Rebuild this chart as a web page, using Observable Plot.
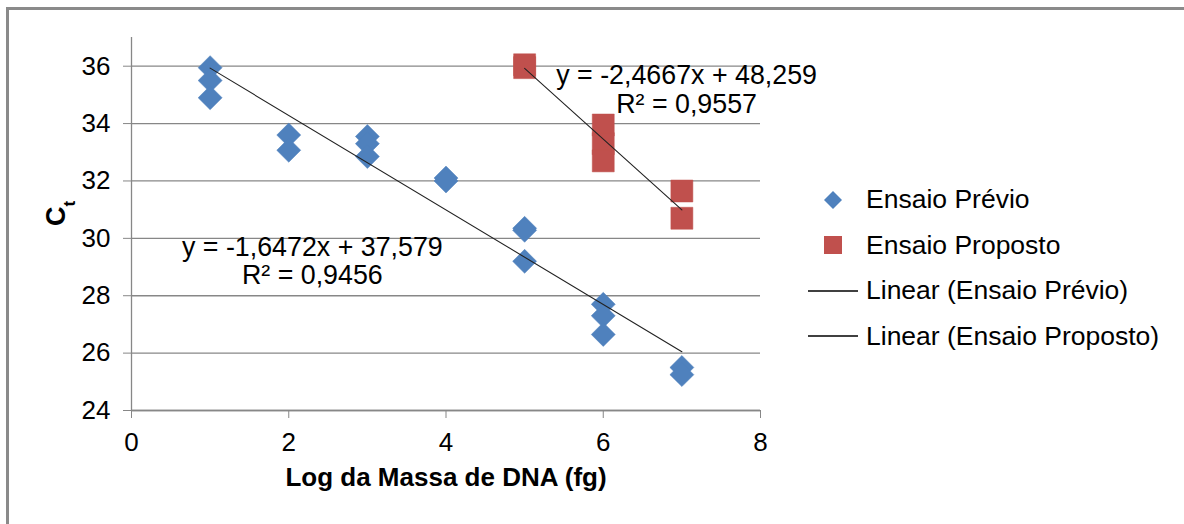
<!DOCTYPE html>
<html>
<head>
<meta charset="utf-8">
<script src="https://cdn.jsdelivr.net/npm/d3@7"></script>
<script src="https://cdn.jsdelivr.net/npm/@observablehq/plot@0.6"></script>
<style>
  html, body { margin: 0; padding: 0; background: #fff; }
  #wrap { width: 1184px; height: 524px; position: relative; overflow: hidden; font-family: "Liberation Sans", Arial, sans-serif; }
  #frame { position: absolute; left: 6px; top: 7px; width: 1300px; height: 700px; border-top: 3px solid #8a8a8a; border-left: 3px solid #8a8a8a; }
  #chart { position: absolute; left: 0; top: 0; }
  #legend { position: absolute; left: 806px; top: 177px; font-size: 26.5px; color: #000; }
  #legend .row { height: 45.5px; display: flex; align-items: center; white-space: nowrap; }
  #legend svg { width: 54px; height: 30px; margin-right: 6px; flex: none; }
</style>
</head>
<body>
<div id="wrap">
<div id="frame"></div>
<div id="chart"></div>
<div id="legend"></div>
</div>
<script>
// ---- data ----
const xTicks = [0, 2, 4, 6, 8];
const yTicks = [24, 26, 28, 30, 32, 34, 36];

const previoX = [1, 1, 1, 2, 2, 3, 3, 3, 4, 4, 5, 5, 5, 6, 6, 6, 7, 7];
const previoY = [35.95, 35.5, 34.9, 33.6, 33.07, 33.55, 33.3, 32.85, 32.1, 32.0, 30.35, 30.28, 29.2, 27.7, 27.3, 26.65, 25.5, 25.25];

const propostoX = [5, 5, 6, 6, 6, 7, 7];
const propostoY = [36.05, 35.95, 33.95, 33.3, 32.7, 31.65, 30.7];

const seriesNames = ["Ensaio Prévio", "Ensaio Proposto"];
const seriesColors = ["#4f81bd", "#c0504d"];
const trendSlope = [-1.6472, -2.4667];
const trendIntercept = [37.579, 48.259];
const trendXMin = [1, 5];
const trendXMax = [7, 7];

const eqLabels = ["y = -1,6472x + 37,579\nR² = 0,9456", "y = -2,4667x + 48,259\nR² = 0,9557"];
const eqLabelX = [2.3, 7.06];
const eqLabelY = [29.22, 35.2];

const legendLabels = ["Ensaio Prévio", "Ensaio Proposto", "Linear (Ensaio Prévio)", "Linear (Ensaio Proposto)"];

const xTitle = "Log da Massa de DNA (fg)";
const yTitle = "C";
const yTitleSub = "t";

// ---- tables ----
const previo = previoX.map((x, i) => ({x, y: previoY[i]}));
const proposto = propostoX.map((x, i) => ({x, y: propostoY[i]}));
const trends = [];
seriesNames.forEach((s, i) => {
  [trendXMin[i], trendXMax[i]].forEach(x => trends.push({series: s, x, y: trendSlope[i] * x + trendIntercept[i]}));
});
const eqs = eqLabels.map((t, i) => ({text: t, x: eqLabelX[i], y: eqLabelY[i]}));

const grey = "#878787";
const font = "'Liberation Sans', Arial, sans-serif";

const plot = Plot.plot({
  width: 1184,
  height: 524,
  marginLeft: 131,
  marginRight: 424,
  marginTop: 37,
  marginBottom: 114,
  style: {fontFamily: font, fontSize: "26px", background: "transparent", color: "#000"},
  x: {domain: [0, 8]},
  y: {domain: [24, 37]},
  marks: [
    Plot.gridY(yTicks, {stroke: grey, strokeOpacity: 1, strokeWidth: 1.3}),
    Plot.ruleX([0], {stroke: grey, strokeWidth: 1.3}),
    Plot.ruleY([24], {stroke: grey, strokeWidth: 1.3}),
    Plot.axisY(yTicks, {tickSize: 8, tickPadding: 13, stroke: grey, fill: "#000", fontSize: 26, label: null, tickFormat: d => String(d)}),
    Plot.axisX(xTicks, {tickSize: 8, tickPadding: 14, stroke: grey, fill: "#000", fontSize: 26, label: null, tickFormat: d => String(d)}),
    Plot.dot(previo, {x: "x", y: "y", symbol: "diamond2", r: 10.8, fill: seriesColors[0], stroke: seriesColors[0], strokeWidth: 0.5}),
    Plot.dot(proposto, {x: "x", y: "y", symbol: "square", r: 12.4, fill: seriesColors[1], stroke: seriesColors[1], strokeWidth: 0.5}),
    Plot.line(trends, {x: "x", y: "y", z: "series", stroke: "#222", strokeWidth: 1.1}),
    Plot.text(eqs, {x: "x", y: "y", text: "text", fontSize: 26.8, lineHeight: 1.08, fill: "#000", textAnchor: "middle"}),
    Plot.text([xTitle], {frameAnchor: "bottom", dy: 75, fontSize: 26, fontWeight: "bold", fill: "#000"}),
    Plot.text([yTitle], {frameAnchor: "left", dx: -75, dy: 2, rotate: -90, fontSize: 27, fontWeight: "bold", fill: "#000", className: "ytitle"})
  ]
});
document.getElementById("chart").appendChild(plot);

// subscript for the y title
d3.select(plot).selectAll(".ytitle text").each(function() {
  d3.select(this).append("tspan").attr("baseline-shift", "sub").attr("font-size", "17px").text(yTitleSub);
});

// ---- legend ----
const legend = d3.select("#legend");
legendLabels.forEach((label, i) => {
  const row = legend.append("div").attr("class", "row");
  const s = row.append("svg").attr("viewBox", "0 0 54 30");
  if (i === 0) {
    s.append("path").attr("d", "M27,6 L36,15 L27,24 L18,15 Z").attr("fill", seriesColors[0]);
  } else if (i === 1) {
    s.append("rect").attr("x", 18).attr("y", 6).attr("width", 18).attr("height", 18).attr("fill", seriesColors[1]);
  } else {
    s.append("line").attr("x1", 2).attr("x2", 52).attr("y1", 15).attr("y2", 15).attr("stroke", "#000").attr("stroke-width", 1.3);
  }
  row.append("span").text(label);
});
</script>
</body>
</html>
